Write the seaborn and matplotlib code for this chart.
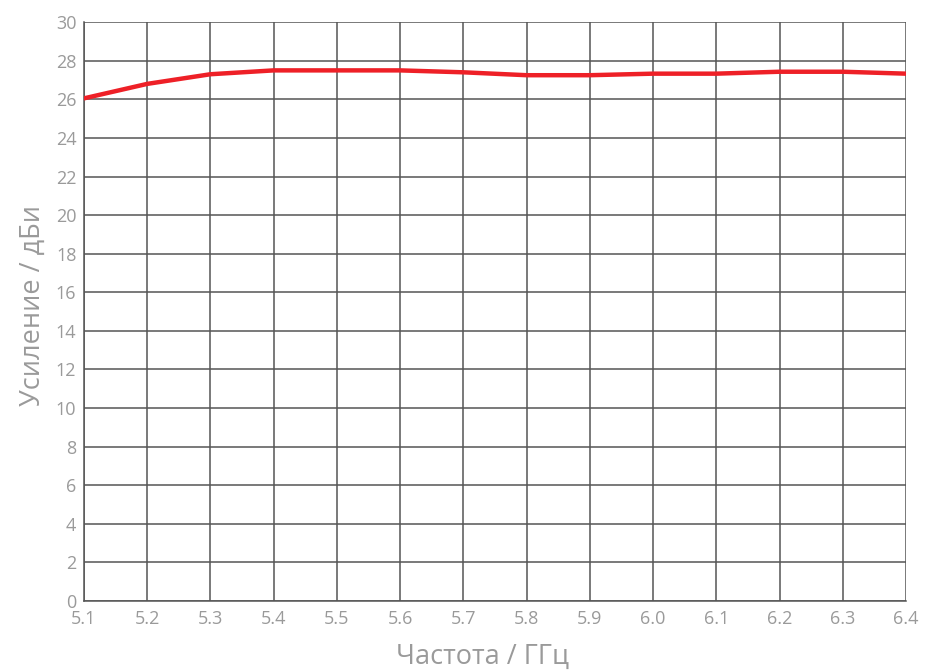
import numpy as np
import pandas as pd
import seaborn as sns
import matplotlib.pyplot as plt

freq = [5.1, 5.2, 5.3, 5.4, 5.5, 5.6, 5.7, 5.8, 5.9, 6.0, 6.1, 6.2, 6.3, 6.4]
gain = [26.05, 26.8, 27.3, 27.5, 27.5, 27.5, 27.4, 27.25, 27.25, 27.33, 27.33, 27.43, 27.43, 27.33]
x_ticks = [5.1, 5.2, 5.3, 5.4, 5.5, 5.6, 5.7, 5.8, 5.9, 6.0, 6.1, 6.2, 6.3, 6.4]
y_ticks = list(range(0, 31, 2))

df = pd.DataFrame({"freq": freq, "gain": gain})

sns.set_style("white")
plt.rcParams['font.family'] = ['Open Sans', 'DejaVu Sans']

fig = plt.figure(figsize=(9.34, 6.71), dpi=100)
ax = fig.add_axes([0.0899, 0.1043, 0.8801, 0.8627])

sns.lineplot(data=df, x="freq", y="gain", color="#ee2027", linewidth=3.2, ax=ax, zorder=3)

ax.set_xlim(5.1, 6.4)
ax.set_ylim(0, 30)
ax.set_xticks(x_ticks)
ax.set_xticklabels([f"{v:.1f}" for v in x_ticks])
ax.set_yticks(y_ticks)
ax.grid(True, color="#555555", linewidth=1.1)
for s in ax.spines.values():
    s.set_visible(False)
ax.spines['left'].set_visible(True)
ax.spines['bottom'].set_visible(True)
ax.spines['left'].set_color("#555555")
ax.spines['bottom'].set_color("#555555")
ax.spines['left'].set_linewidth(1.1)
ax.spines['bottom'].set_linewidth(1.1)

ax.tick_params(axis="both", colors="#555555", labelcolor="#9a9a9a", labelsize=13,
               length=5, width=1.1, direction="inout", pad=3)
ax.tick_params(axis="x", pad=4)

ax.set_xlabel("Частота / ГГц", fontsize=19.5, color="#9a9a9a")
ax.set_ylabel("Усиление / дБи", fontsize=19.5, color="#9a9a9a")
ax.xaxis.set_label_coords(0.485, -0.072)
ax.yaxis.set_label_coords(-0.045, 0.51)

fig.savefig("out.png", dpi=100)
